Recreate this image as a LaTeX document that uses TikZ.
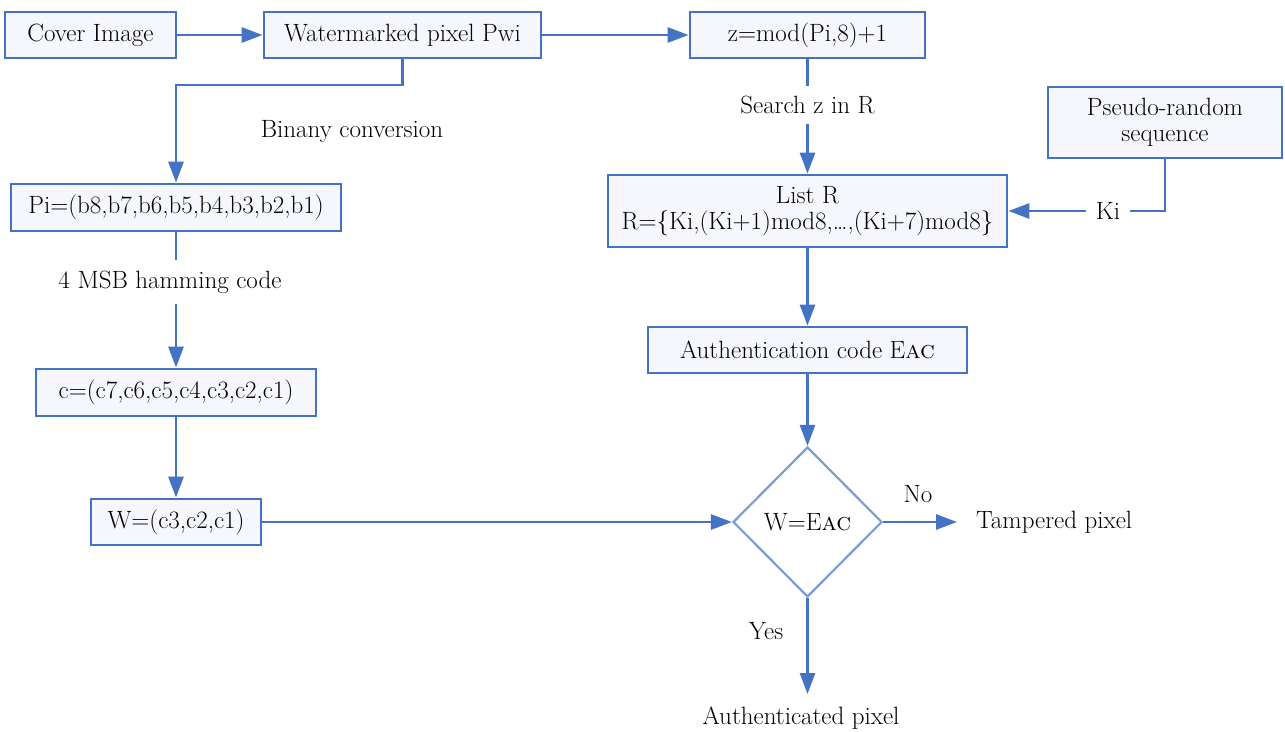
\documentclass[tikz,border=0pt]{standalone}
\usetikzlibrary{arrows.meta,shapes.geometric}
\definecolor{bord}{HTML}{4472C4}
\definecolor{boxfill}{HTML}{F5F7FC}
\definecolor{diabord}{HTML}{7B9DD4}
\begin{document}
\begin{tikzpicture}[x=1pt,y=-1pt,
  every node/.style={font=\fontsize{25}{29}\selectfont, inner sep=0pt},
  boxnode/.style={draw=bord, fill=boxfill, line width=2.8pt, align=center},
  txt/.style={fill=white, inner xsep=2pt, inner ysep=11pt},
  conn/.style={draw=bord, line width=2.8pt},
  arr/.style={conn, -{Triangle[length=21pt,width=15pt]}},
  dianode/.style={diamond, draw=diabord, line width=2.2pt, fill=white, aspect=1}]
\useasboundingbox (0,0) rectangle (1285,731);
\fill[white] (0,0) rectangle (1285,731);
% boxes
\node[boxnode, minimum width=171, minimum height=46] (cover) at (90.5,35) {Cover Image};
\node[boxnode, minimum width=277, minimum height=46] (wm) at (402.5,35) {Watermarked pixel Pwi};
\node[boxnode, minimum width=235, minimum height=46] (z) at (807.5,35) {z=mod(Pi,8)+1};
\node[boxnode, minimum width=234, minimum height=71] (pseudo) at (1165,122.5) {Pseudo-random\\[-3pt]sequence};
\node[boxnode, minimum width=399, minimum height=72] (listr) at (807.5,211) {List R\\[-3pt]R=\{Ki,(Ki+1)mod8,\ldots,(Ki+7)mod8\}};
\node[boxnode, minimum width=319, minimum height=46] (auth) at (807.5,350) {Authentication code E\textsc{ac}};
\node[boxnode, minimum width=330, minimum height=47] (pi) at (176,207.5) {Pi=(b8,b7,b6,b5,b4,b3,b2,b1)};
\node[boxnode, minimum width=280, minimum height=47] (c) at (176,392.5) {c=(c7,c6,c5,c4,c3,c2,c1)};
\node[boxnode, minimum width=170, minimum height=46] (w) at (176,522) {W=(c3,c2,c1)};
\node[dianode, minimum width=149, minimum height=150] (dec) at (807.5,522) {W=E\textsc{ac}};
% text labels
\node (bin) at (352,131) {Binany conversion};
\node[txt] (msb) at (170,282) {4 MSB hamming code};
\node[txt, inner ysep=10pt] (search) at (807.5,105) {Search z in R};
\node[txt, inner xsep=10pt] (ki) at (1108,211) {Ki};
\node (no) at (918,494) {No};
\node (yes) at (766,631) {Yes};
\node[anchor=west] (tamp) at (976,522) {Tampered pixel};
\node (authp) at (801,718) {Authenticated pixel};
\coordinate (tampend) at (957,522);
\coordinate (authend) at (807.5,694);
\coordinate (bend) at (402.5,85);
% connectors
\draw[arr] (cover) -- (wm);
\draw[arr] (wm) -- (z);
\draw[arr] (wm.south) -- (bend) -| (pi.north);
\draw[conn] (pi.south) -- (msb.north -| pi.south);
\draw[arr] (msb.south -| c.north) -- (c.north);
\draw[arr] (c) -- (w);
\draw[arr] (w.east) -- (dec.west);
\draw[conn] (z.south) -- (search.north);
\draw[arr] (search.south) -- (listr.north);
\draw[conn] (pseudo.south) |- (ki.east);
\draw[arr] (ki.west) -- (ki.west -| listr.east);
\draw[arr] (listr) -- (auth);
\draw[arr] (auth.south) -- (dec.north);
\draw[arr] (dec.east) -- (tampend);
\draw[arr] (dec.south) -- (authend);
\end{tikzpicture}
\end{document}
